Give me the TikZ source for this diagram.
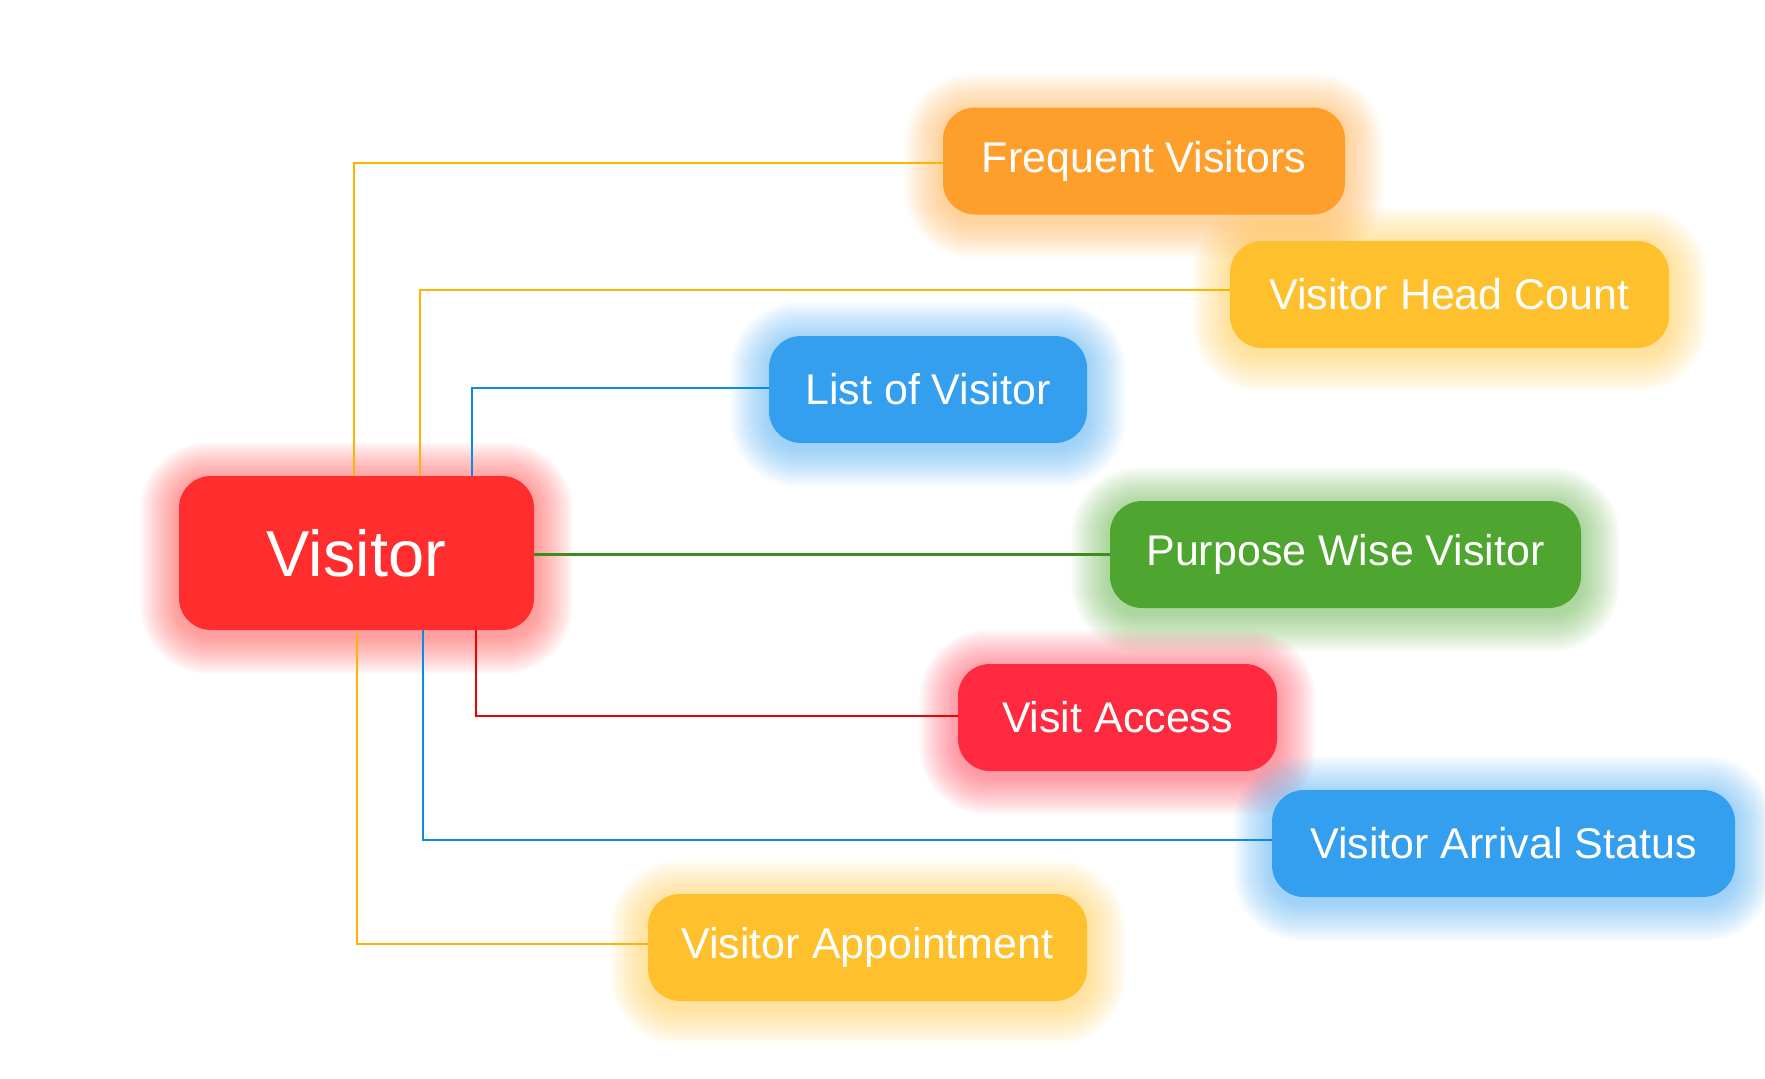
\documentclass[tikz,border=0pt]{standalone}
\usepackage{fontspec}
\setmainfont{Liberation Sans}
\usepackage{xcolor}
\usepackage{tikz}
\usetikzlibrary{positioning, backgrounds, calc}
\definecolor{hubred}{RGB}{255, 45, 45}
\definecolor{freqorange}{RGB}{255, 159, 43}
\definecolor{amber}{RGB}{255, 192, 45}
\definecolor{skyblue}{RGB}{52, 158, 239}
\definecolor{leafgreen}{RGB}{78, 165, 47}
\definecolor{accessred}{RGB}{255, 42, 64}
\definecolor{lineorange}{RGB}{255, 180, 0}
\definecolor{lineblue}{RGB}{10, 139, 232}
\definecolor{linegreen}{RGB}{60, 140, 30}
\definecolor{linered}{RGB}{240, 0, 0}

% soft coloured halo round a node
\newcommand{\halo}[2]{%
  \foreach \g in {1,...,26}
    \fill[#2, opacity=0.024, rounded corners=30pt+\g*1.5pt]
      ([shift={(-\g*1.5pt,-\g*1.5pt-5pt)}]#1.south west) rectangle
      ([shift={(\g*1.5pt,\g*1.5pt-5pt)}]#1.north east);
}

\begin{document}
\begin{tikzpicture}[x=1pt, y=-1pt,
    box/.style={rectangle, rounded corners=32pt, text=white, inner sep=0pt,
      minimum height=107pt, font=\fontsize{43}{50}\selectfont},
    link/.style={line width=2.5pt}]
    \useasboundingbox (0,0) rectangle (1765,1079);

    % Centre
    \node[box, fill=hubred, minimum width=355pt, minimum height=154pt,
      font=\fontsize{65}{75}\selectfont] (visitor) at (356.5,553) {Visitor};

    % Branches
    \node[box, fill=freqorange, minimum width=402pt] (frequent) at (1144,161) {Frequent Visitors};
    \node[box, fill=amber, minimum width=439pt] (headcount) at (1449.5,294.5) {Visitor Head Count};
    \node[box, fill=skyblue, minimum width=318pt] (listof) at (928,389.5) {List of Visitor};
    \node[box, fill=leafgreen, minimum width=471pt] (purpose) at (1345.5,554.5) {Purpose Wise Visitor};
    \node[box, fill=accessred, minimum width=319pt] (access) at (1117.5,717.5) {Visit Access};
    \node[box, fill=skyblue, minimum width=463pt] (arrival) at (1503.5,843.5) {Visitor Arrival Status};
    \node[box, fill=amber, minimum width=439pt] (appointment) at (867.5,947.5) {Visitor Appointment};

    \begin{scope}[on background layer]
    % Halos
    \halo{visitor}{hubred}
    \halo{frequent}{freqorange}
    \halo{headcount}{amber}
    \halo{listof}{skyblue}
    \halo{purpose}{leafgreen}
    \halo{access}{accessred}
    \halo{arrival}{skyblue}
    \halo{appointment}{amber}

    % Connectors
    \draw[link, lineorange] ([xshift=-2.5pt]visitor.north) |- ([yshift=-2pt]frequent.west);
    \draw[link, lineorange] ([xshift=63.5pt]visitor.north) |- ([yshift=4.5pt]headcount.west);
    \draw[link, lineblue] ([xshift=115.5pt]visitor.north) |- ([yshift=1.5pt]listof.west);
    \draw[link, linegreen] (visitor.east |- purpose.west) -- (purpose.west);
    \draw[link, linered] ([xshift=119.5pt]visitor.south) |- ([yshift=1.5pt]access.west);
    \draw[link, lineblue] ([xshift=66.5pt]visitor.south) |- ([yshift=3.5pt]arrival.west);
    \draw[link, lineorange] ([xshift=0.5pt, yshift=-3pt]visitor.south) |- ([yshift=3.5pt]appointment.west);
    \end{scope}

\end{tikzpicture}
\end{document}
